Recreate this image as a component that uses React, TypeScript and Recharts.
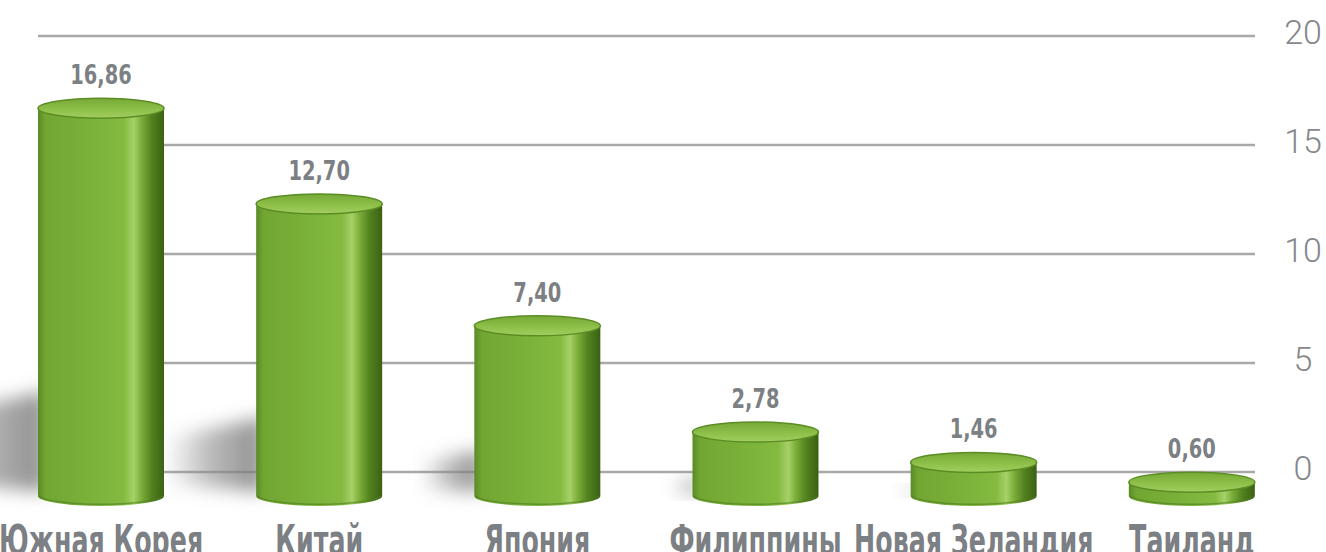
import React from 'react';
import { BarChart, Bar, XAxis, YAxis, CartesianGrid, LabelList } from 'recharts';

const countries = ['Южная Корея', 'Китай', 'Япония', 'Филиппины', 'Новая Зеландия', 'Таиланд'];
const values = [16.86, 12.7, 7.4, 2.78, 1.46, 0.6];
const yTicks = [0, 5, 10, 15, 20];

const data = countries.map((name, i) => ({ name, value: values[i] }));

const GRAY = '#7c7f83';
const NARROW = '"DejaVu Sans Condensed", "DejaVu Sans", sans-serif';

const fmt = (v: number) => v.toFixed(2).replace('.', ',');

const Cylinder = (props: any) => {
  const { x, y, width, height, index } = props;
  if (width == null || height == null) return null;
  const rx = width / 2;
  const ry = 10;
  const cx = x + rx;
  const yt = y;
  const yb = y + height;
  const h = height;
  const id = `cyl${index}`;
  const shadowLen = 0.3 * h;
  return (
    <g>
      <defs>
        <linearGradient id={`${id}body`} x1="0" y1="0" x2="1" y2="0">
          <stop offset="0%" stopColor="#5a8a25" />
          <stop offset="6%" stopColor="#72a633" />
          <stop offset="40%" stopColor="#7ab139" />
          <stop offset="68%" stopColor="#84ba40" />
          <stop offset="76%" stopColor="#a6d168" />
          <stop offset="82%" stopColor="#7cae39" />
          <stop offset="90%" stopColor="#53821f" />
          <stop offset="100%" stopColor="#3a6113" />
        </linearGradient>
        <linearGradient id={`${id}top`} x1="0" y1="0" x2="0" y2="1">
          <stop offset="0%" stopColor="#76a936" />
          <stop offset="60%" stopColor="#8fc14b" />
          <stop offset="100%" stopColor="#a2ce60" />
        </linearGradient>
        <linearGradient id={`${id}shadow`} x1="0" y1="0" x2="1" y2="0">
          <stop offset="0%" stopColor="#8a8a8a" stopOpacity="0.05" />
          <stop offset="45%" stopColor="#8a8a8a" stopOpacity="0.6" />
          <stop offset="100%" stopColor="#7a7a7a" stopOpacity="0.85" />
        </linearGradient>
        <filter id={`${id}blur`} x="-50%" y="-50%" width="200%" height="200%">
          <feGaussianBlur stdDeviation="9" />
        </filter>
      </defs>
      <polygon
        points={`${x + 8},${yb - 4} ${x + 8},${yb - 0.27 * h} ${x - shadowLen},${yb - 0.2 * h} ${x - shadowLen},${yb - 0.04 * h}`}
        fill={`url(#${id}shadow)`}
        filter={`url(#${id}blur)`}
      />
      <path
        d={`M${x},${yt} L${x},${yb} A${rx},${ry} 0 0 0 ${x + width},${yb} L${x + width},${yt} Z`}
        fill={`url(#${id}body)`}
      />
      <path
        d={`M${x + 1},${yb} A${rx},${ry} 0 0 0 ${x + width - 1},${yb}`}
        fill="none"
        stroke="#4f7d1f"
        strokeWidth={1.5}
        strokeOpacity={0.6}
      />
      <ellipse cx={cx} cy={yt} rx={rx} ry={ry} fill={`url(#${id}top)`} stroke="#5c8d25" strokeWidth={1.5} />
    </g>
  );
};

const ValueLabel = (props: any) => {
  const { x, y, width, value } = props;
  const cx = x + width / 2;
  return (
    <text
      transform={`translate(${cx},${y - 24}) scale(0.8,1)`}
      x={0}
      y={0}
      textAnchor="middle"
      fill={GRAY}
      fontFamily={NARROW}
      fontWeight="bold"
      fontSize={27}
    >
      {fmt(value)}
    </text>
  );
};

const CategoryTick = (props: any) => {
  const { x, y, payload } = props;
  return (
    <text
      transform={`translate(${x},${y + 75}) scale(0.67,1)`}
      x={0}
      y={0}
      textAnchor="middle"
      fill={GRAY}
      fontFamily={NARROW}
      fontWeight="bold"
      fontSize={42}
    >
      {payload.value}
    </text>
  );
};

const ValueTick = (props: any) => {
  const { x, y, payload } = props;
  return (
    <text
      x={x + 2}
      y={y - 4}
      textAnchor="middle"
      dominantBaseline="central"
      fill="#85888b"
      fontFamily="Roboto, 'DejaVu Sans', sans-serif"
      fontWeight={300}
      fontSize={34}
    >
      {payload.value}
    </text>
  );
};

const GridLine = (props: any) => {
  const { x1, x2, y1, y2 } = props;
  return <line x1={x1 + 46} x2={x2 - 46} y1={y1} y2={y2} stroke="#a9a9a9" strokeWidth={2.5} />;
};

export default function App() {
  return (
    <div style={{ position: 'absolute', left: 0, top: 0, width: 1326, height: 552, overflow: 'hidden', background: '#fff' }}>
      <div style={{ position: 'absolute', left: -40, top: 0 }}>
        <BarChart width={1400} height={552} data={data} margin={{ top: 36, right: 0, left: 32, bottom: 0 }} barSize={126}>
          <CartesianGrid yAxisId="grid" vertical={false} horizontal={(p: any) => <GridLine key={p.key} {...p} />} />
          <XAxis dataKey="name" axisLine={false} tickLine={false} height={80} tick={<CategoryTick />} interval={0} />
          <YAxis
            yAxisId="grid"
            orientation="right"
            domain={[0, 20]}
            ticks={yTicks}
            allowDataOverflow
            axisLine={false}
            tickLine={false}
            tickSize={0}
            tickMargin={0}
            width={59}
            tick={<ValueTick />}
          />
          <YAxis yAxisId="bar" hide domain={[0, 20]} padding={{ top: 0, bottom: -24 }} />
          <Bar dataKey="value" yAxisId="bar" shape={<Cylinder />} isAnimationActive={false}>
            <LabelList dataKey="value" content={<ValueLabel />} />
          </Bar>
        </BarChart>
      </div>
    </div>
  );
}
